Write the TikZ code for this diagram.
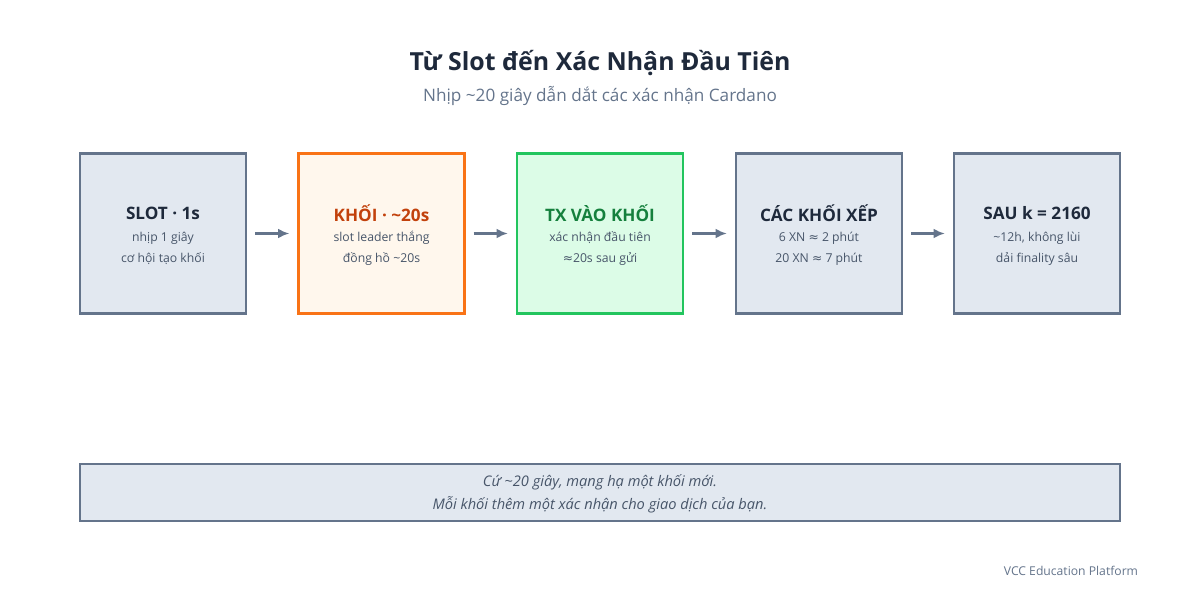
\documentclass[tikz,border=0pt]{standalone}
\usepackage{fontspec}
\usetikzlibrary{arrows.meta}
\setmainfont{Open Sans}
\newfontfamily\symfont{DejaVu Sans}
\newcommand{\aprx}{{\symfont ≈}}
\definecolor{ink}{HTML}{1E293B}
\definecolor{body}{HTML}{475569}
\definecolor{slate}{HTML}{64748B}
\definecolor{slatefill}{HTML}{E2E8F0}
\definecolor{orgline}{HTML}{F97316}
\definecolor{orgfill}{HTML}{FFF7ED}
\definecolor{orgtext}{HTML}{C2410C}
\definecolor{grnline}{HTML}{22C55E}
\definecolor{grnfill}{HTML}{DCFCE7}
\definecolor{grntext}{HTML}{15803D}
\tikzset{
  stagebox/.style={draw=slate, fill=slatefill, line width=1.7pt, minimum width=4.15cm, minimum height=4.0cm, inner sep=0pt},
  hotbox/.style={stagebox, draw=orgline, fill=orgfill},
  txbox/.style={stagebox, draw=grnline, fill=grnfill},
  boxtitle/.style={font=\fontsize{12.2}{14}\selectfont\bfseries, text=ink},
  boxtext/.style={font=\fontsize{8.7}{10}\selectfont, text=body},
  notetext/.style={font=\fontsize{10.4}{12}\selectfont\itshape, text=body},
  flow/.style={-{Latex[length=8pt,width=7pt]}, draw=slate, line width=1.5pt, shorten <=0.2cm, shorten >=0.2cm}
}
\begin{document}
\begin{tikzpicture}[x=0.025cm, y=0.025cm]
    \useasboundingbox (0,0) rectangle (1200,600);
    % title
    \node[font=\fontsize{17.7}{21}\selectfont\bfseries, text=ink] (title) at (600,537) {Từ Slot đến Xác Nhận Đầu Tiên};
    \node[font=\fontsize{12.2}{14}\selectfont, text=slate] (subtitle) at (600,504) {Nhịp \textasciitilde20 giây dẫn dắt các xác nhận Cardano};
    % stages
    \node[stagebox] (slot) at (163,366.5) {};
    \node[hotbox] (khoi) at (381.5,366.5) {};
    \node[txbox] (tx) at (600,366.5) {};
    \node[stagebox] (xep) at (819,366.5) {};
    \node[stagebox] (sau) at (1037,366.5) {};
    \node[boxtitle] (slot-t) at (163,387) {SLOT · 1s};
    \node[boxtext] (slot-a) at (163,362) {nhịp 1 giây};
    \node[boxtext] (slot-b) at (163,341) {cơ hội tạo khối};
    \node[boxtitle, text=orgtext] (khoi-t) at (381.5,387) {KHỐI · \textasciitilde20s};
    \node[boxtext] (khoi-a) at (381.5,362) {slot leader thắng};
    \node[boxtext] (khoi-b) at (381.5,341) {đồng hồ \textasciitilde20s};
    \node[boxtitle, text=grntext] (tx-t) at (600,387) {TX VÀO KHỐI};
    \node[boxtext] (tx-a) at (600,362) {xác nhận đầu tiên};
    \node[boxtext] (tx-b) at (600,341) {\aprx20s sau gửi};
    \node[boxtitle] (xep-t) at (819,387) {CÁC KHỐI XẾP};
    \node[boxtext] (xep-a) at (819,362) {6 XN \aprx{} 2 phút};
    \node[boxtext] (xep-b) at (819,341) {20 XN \aprx{} 7 phút};
    \node[boxtitle] (sau-t) at (1037,387) {SAU k = 2160};
    \node[boxtext] (sau-a) at (1037,362) {\textasciitilde12h, không lùi};
    \node[boxtext] (sau-b) at (1037,341) {dải finality sâu};
    \draw[flow] (slot) -- (khoi);
    \draw[flow] (khoi) -- (tx);
    \draw[flow] (tx) -- (xep);
    \draw[flow] (xep) -- (sau);
    % note
    \node[stagebox, minimum width=26cm, minimum height=1.42cm] (note) at (600,107.5) {};
    \node[notetext] (note-a) at (600,118) {Cứ \textasciitilde20 giây, mạng hạ một khối mới.};
    \node[notetext] (note-b) at (600,95) {Mỗi khối thêm một xác nhận cho giao dịch của bạn.};
    \node[font=\fontsize{8.65}{10}\selectfont, text=slate, anchor=east] (brand) at (1143,29) {VCC Education Platform};
\end{tikzpicture}
\end{document}
